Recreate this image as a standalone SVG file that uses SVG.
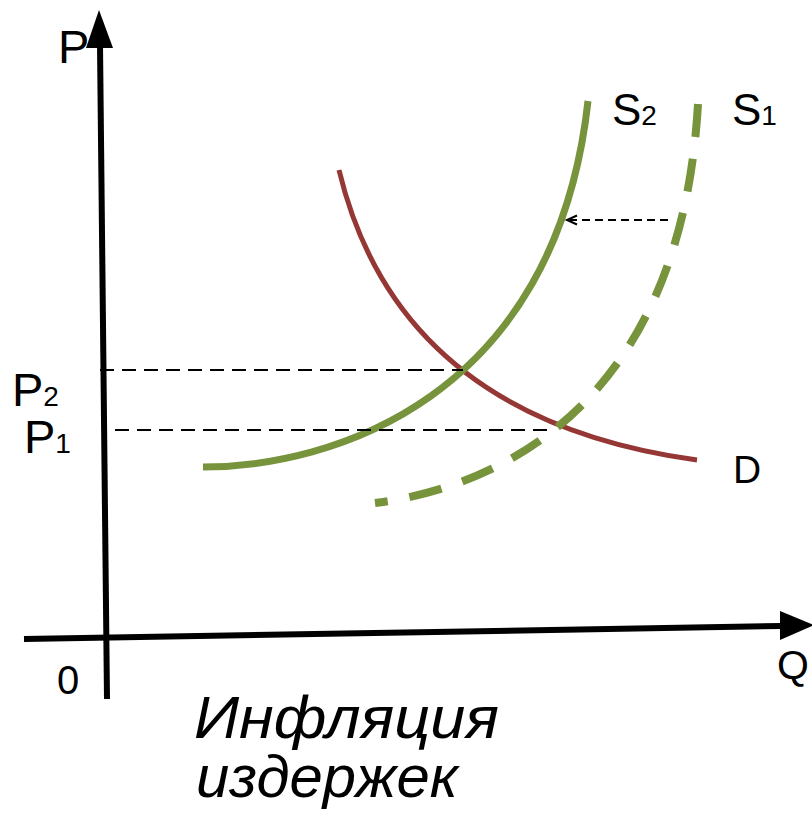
<svg xmlns="http://www.w3.org/2000/svg" width="812" height="828" viewBox="0 0 812 828">
<style>
.lbl{font-family:"Liberation Sans",Arial,sans-serif;fill:#000}
.axis{stroke:#000;stroke-width:6;fill:none}
.guide{stroke:#000;stroke-width:2;stroke-dasharray:14 8;fill:none}
.green{stroke:#77933C;fill:none}
.red{stroke:#953735;fill:none;stroke-width:5}
</style>
<rect width="812" height="828" fill="#fff"/>
<g id="axes">
<path class="axis" d="M107,699 L100,45"/>
<polygon points="99,10 86,48 113,48" fill="#000"/>
<path class="axis" d="M24,639 L782,626"/>
<polygon points="814,625 780,611 780,640" fill="#000"/>
</g>
<g id="D">
<path class="red" d="M339,170 C375,320 480,430 697,460"/>
</g>
<g id="S2">
<path class="green" stroke-width="7" d="M203,467 C330,467 555,400 588,101"/>
</g>
<g id="S1">
<path class="green" stroke-width="8" stroke-dasharray="33 22" d="M698,104 C680,420 480,490 375,503"/>
</g>
<g id="connectors">
<path class="guide" d="M100,370 L463,370"/>
<path class="guide" d="M115,430 L555,430"/>
<path d="M668,220 L570,220" stroke="#000" stroke-width="2" stroke-dasharray="8 5" fill="none"/>
<path d="M577,215.5 L567,220 L577,224.5" stroke="#000" stroke-width="2" fill="none"/>
</g>
<g id="labels">
<text class="lbl" x="58" y="63" font-size="47">P</text>
<text class="lbl" x="612" y="125" font-size="44">S<tspan font-size="28">2</tspan></text>
<text class="lbl" x="732" y="125" font-size="44">S<tspan font-size="28">1</tspan></text>
<text class="lbl" x="12" y="406" font-size="47">P<tspan font-size="28">2</tspan></text>
<text class="lbl" x="24" y="453" font-size="47">P<tspan font-size="28">1</tspan></text>
<text class="lbl" x="733" y="483" font-size="39">D</text>
<text class="lbl" x="777" y="679" font-size="41">Q</text>
<text class="lbl" x="57" y="694" font-size="40">0</text>
<text class="lbl" x="194" y="738" font-size="60" font-style="italic" textLength="305" lengthAdjust="spacingAndGlyphs">Инфляция</text>
<text class="lbl" x="196" y="797" font-size="60" font-style="italic" textLength="262" lengthAdjust="spacingAndGlyphs">издержек</text>
</g>
</svg>
